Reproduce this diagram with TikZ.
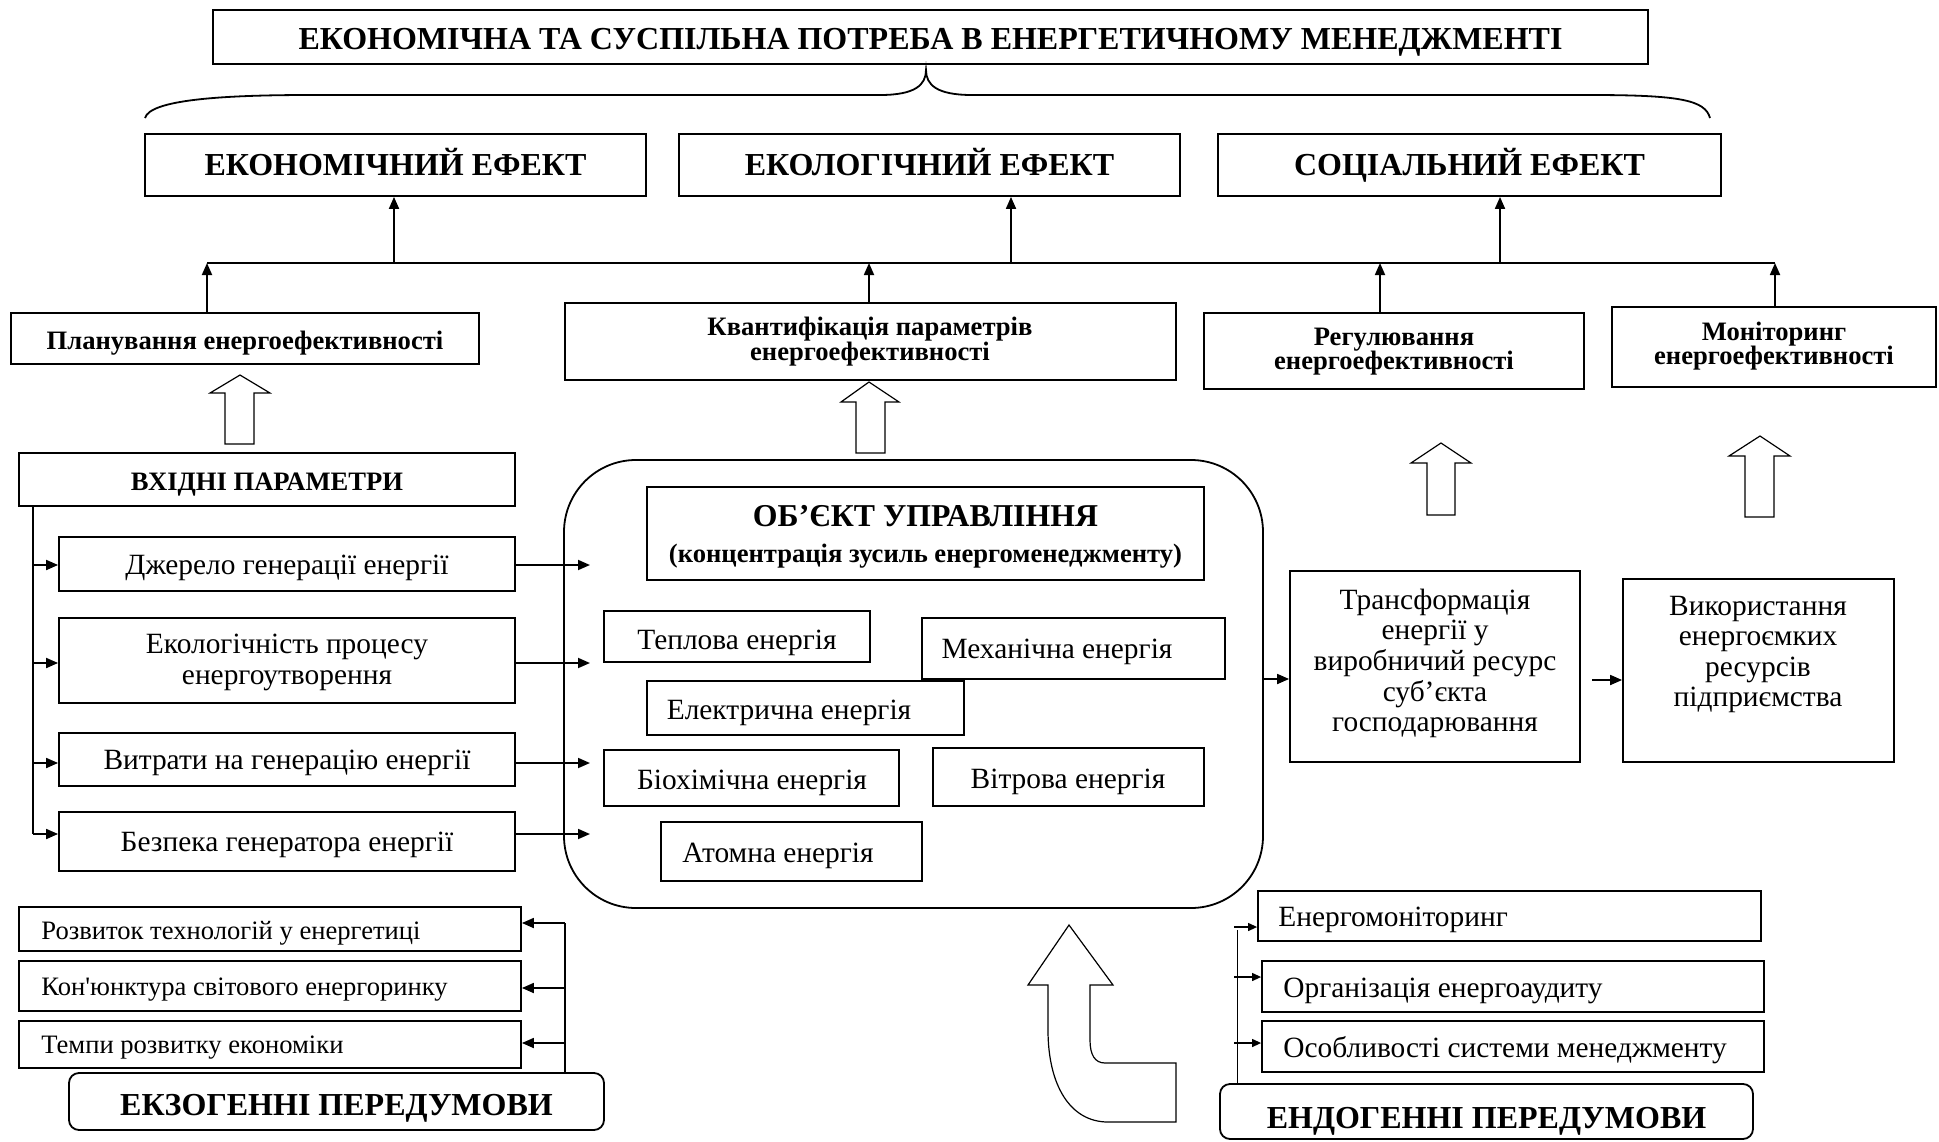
\documentclass[tikz,border=0pt]{standalone}
\usepackage{fontspec}
\setmainfont{Liberation Serif}[Ligatures=TeXOff]
\usetikzlibrary{arrows.meta,fit}
\begin{document}
\begin{tikzpicture}[x=0.5pt,y=-0.5pt,
 box/.style={draw,line width=0.9pt,inner sep=0pt},
 rbox/.style={box,rounded corners=5pt},
 txt/.style={inner sep=0pt,align=center,yshift=-1.75pt},
 arr/.style={line width=0.9pt,-{Triangle[length=6pt,width=5pt]}},
 thinarr/.style={line width=0.6pt,-{Triangle[length=4.5pt,width=4pt]}},
 blk/.style={draw,line width=0.6pt,fill=white,line join=miter},
 fT/.style={txt,font=\bfseries\fontsize{16}{18}\selectfont},
 fE/.style={txt,font=\bfseries\fontsize{16}{18}\selectfont,anchor=base},
 fS/.style={txt,font=\bfseries\fontsize{13.3}{12.3}\selectfont},
 fR/.style={txt,font=\fontsize{14.7}{15.5}\selectfont},
 fN/.style={txt,font=\fontsize{14.7}{15.3}\selectfont},
 fX/.style={txt,font=\fontsize{13.3}{14}\selectfont},
 fD/.style={txt,font=\fontsize{14.7}{15}\selectfont},
 fP/.style={txt,font=\bfseries\fontsize{16}{18}\selectfont},
 ]
\useasboundingbox (0,0) rectangle (1939,1141);

% title and brace
\node[box,fit={(213,10)(1648,64)}] (title) {};
\node[fT] (titleT) at ([yshift=-0.75pt]title.center) {ЕКОНОМІЧНА ТА СУСПІЛЬНА ПОТРЕБА В ЕНЕРГЕТИЧНОМУ МЕНЕДЖМЕНТІ};
\draw[line width=0.9pt] (145,118) .. controls (150,100) and (220,95) .. (310,95) -- (880,95)
  .. controls (915,95) and (926,85) .. (926,70) .. controls (926,85) and (937,95) .. (972,95)
  -- (1590,95) .. controls (1680,95) and (1705,100) .. (1710,118);

% effects
\coordinate (eb) at (0,172);
\node[box,fit={(145,134)(646,196)}] (eco) {};
\node[fE] (ecoT) at (eco.center |- eb) {ЕКОНОМІЧНИЙ ЕФЕКТ};
\node[box,fit={(679,134)(1180,196)}] (ecol) {};
\node[fE] (ecolT) at (ecol.center |- eb) {ЕКОЛОГІЧНИЙ ЕФЕКТ};
\node[box,fit={(1218,134)(1721,196)}] (soc) {};
\node[fE] (socT) at (soc.center |- eb) {СОЦІАЛЬНИЙ ЕФЕКТ};

% bus
\coordinate (busL) at (207,263);
\coordinate (busR) at (1775,263);
\coordinate (b1) at (394,263);
\coordinate (b2) at (1011,263);
\coordinate (b3) at (1500,263);
\coordinate (b4) at (869,263);
\coordinate (b5) at (1380,263);
\draw[line width=0.9pt] (busL) -- (busR);
\draw[arr] (b1) -- (b1 |- eco.south);
\draw[arr] (b2) -- (b2 |- ecol.south);
\draw[arr] (b3) -- (b3 |- soc.south);

% management functions
\node[box,fit={(11,313)(479,364)}] (plan) {};
\node[fS] (planT) at (245,339.5) {Планування енергоефективності};
\node[box,fit={(565,303)(1176,380)}] (quant) {};
\node[fS] (quantT) at (870,338) {Квантифікація параметрів\\енергоефективності};
\node[box,fit={(1204,313)(1584,389)}] (reg) {};
\node[fS] (regT) at (1394,348) {Регулювання\\енергоефективності};
\node[box,fit={(1612,307)(1936,387)}] (mon) {};
\node[fS] (monT) at (1774,342.5) {Моніторинг\\енергоефективності};
\draw[arr] (busL |- plan.north) -- (busL);
\draw[arr] (b4 |- quant.north) -- (b4);
\draw[arr] (b5 |- reg.north) -- (b5);
\draw[arr] (busR |- mon.north) -- (busR);

% hollow arrows
\draw[blk] (240,375) -- (270,393) -- (254,393) -- (254,444) -- (225,444) -- (225,393) -- (210,393) -- cycle;
\draw[blk] (869,382) -- (899,402) -- (885,402) -- (885,453) -- (856,453) -- (856,402) -- (841,402) -- cycle;
\draw[blk] (1441,443) -- (1471,463) -- (1455,463) -- (1455,515) -- (1427,515) -- (1427,463) -- (1411,463) -- cycle;
\draw[blk] (1760,436) -- (1790,456) -- (1774,456) -- (1774,517) -- (1745,517) -- (1745,456) -- (1729,456) -- cycle;

% input parameters
\node[box,fit={(19,453)(515,506)}] (inp) {};
\node[fS] (inpT) at ([yshift=-0.6pt]inp.center) {ВХІДНІ ПАРАМЕТРИ};
\node[box,fit={(59,537)(515,591)}] (src) {};
\node[fR] (srcT) at (src.center) {Джерело генерації енергії};
\node[box,fit={(59,618)(515,703)}] (env) {};
\node[fR] (envT) at ([yshift=0.8pt]env.center) {Екологічність процесу\\енергоутворення};
\node[box,fit={(59,733)(515,786)}] (cost) {};
\node[fR] (costT) at (cost.center) {Витрати на генерацію енергії};
\node[box,fit={(59,812)(515,871)}] (safe) {};
\node[fR] (safeT) at (safe.center) {Безпека генератора енергії};
\coordinate (vt) at (33,506);
\coordinate (v1) at (33,565);
\coordinate (v2) at (33,663);
\coordinate (v3) at (33,763);
\coordinate (v4) at (33,834);
\draw[line width=0.9pt] (vt) -- (v4);
\draw[arr] (v1) -- (v1 -| src.west);
\draw[arr] (v2) -- (v2 -| env.west);
\draw[arr] (v3) -- (v3 -| cost.west);
\draw[arr] (v4) -- (v4 -| safe.west);

% object of management
\node[draw,line width=0.9pt,rounded corners=36pt,inner sep=0pt,fit={(564,460)(1263,908)}] (obj) {};
\coordinate (o1) at (590,565);
\coordinate (o2) at (590,663);
\coordinate (o3) at (590,763);
\coordinate (o4) at (590,834);
\draw[arr] (src.east |- o1) -- (o1);
\draw[arr] (env.east |- o2) -- (o2);
\draw[arr] (cost.east |- o3) -- (o3);
\draw[arr] (safe.east |- o4) -- (o4);

\node[box,fit={(647,487)(1204,580)}] (objt) {};
\node[txt,font=\bfseries\fontsize{15.9}{18}\selectfont] (objtT1) at (925.5,513) {ОБ’ЄКТ УПРАВЛІННЯ};
\node[txt,font=\bfseries\fontsize{13.3}{15}\selectfont] (objtT2) at (925.5,553) {(концентрація зусиль енергоменеджменту)};

\node[box,fit={(604,611)(870,662)}] (heat) {};
\node[fN] (heatT) at (737,639) {Теплова енергія};
\node[box,fit={(922,618)(1225,679)}] (mech) {};
\node[fN] (mechT) at (1057,648) {Механічна енергія};
\node[box,fit={(647,681)(964,735)}] (elec) {};
\node[fN] (elecT) at (789,709) {Електрична енергія};
\node[box,fit={(604,750)(899,806)}] (bio) {};
\node[fN] (bioT) at (752,779) {Біохімічна енергія};
\node[box,fit={(933,748)(1204,806)}] (wind) {};
\node[fN] (windT) at (1068,778) {Вітрова енергія};
\node[box,fit={(661,822)(922,881)}] (atom) {};
\node[fN] (atomT) at (778,852) {Атомна енергія};

% transformation and use
\node[box,fit={(1290,571)(1580,762)}] (trans) {};
\node[fN] (transT) at (1435,660) {Трансформація\\енергії у\\виробничий ресурс\\суб’єкта\\господарювання};
\node[box,fit={(1623,579)(1894,762)}] (use) {};
\node[fN] (useT) at (1758,651) {Використання\\енергоємких\\ресурсів\\підприємства};
\coordinate (t1) at (1263,679);
\coordinate (t2) at (1592,680);
\draw[arr] (obj.east |- t1) -- (trans.west |- t1);
\draw[arr] (t2) -- (use.west |- t2);

% exogenous
\node[box,fit={(19,907)(521,951)}] (ex1) {};
\node[fX,anchor=west] (ex1T) at (41,930) {Розвиток технологій у енергетиці};
\node[box,fit={(19,961)(521,1011)}] (ex2) {};
\node[fX,anchor=west] (ex2T) at (41,986) {Кон'юнктура світового енергоринку};
\node[box,fit={(19,1021)(521,1068)}] (ex3) {};
\node[fX,anchor=west] (ex3T) at (41,1044) {Темпи розвитку економіки};
\node[rbox,fit={(69,1073)(604,1130)}] (exo) {};
\node[fP] (exoT) at ([yshift=-1.75pt]exo.center) {ЕКЗОГЕННІ ПЕРЕДУМОВИ};
\coordinate (x1) at (565,923);
\coordinate (x2) at (565,988);
\coordinate (x3) at (565,1043);
\draw[line width=0.9pt] (x1) -- (x1 |- exo.north);
\draw[arr] (x1) -- (x1 -| ex1.east);
\draw[arr] (x2) -- (x2 -| ex2.east);
\draw[arr] (x3) -- (x3 -| ex3.east);

% endogenous
\node[box,fit={(1258,891)(1761,941)}] (en1) {};
\node[fD,anchor=west] (en1T) at (1278,916) {Енергомоніторинг};
\node[box,fit={(1262,961)(1764,1012)}] (en2) {};
\node[fD,anchor=west] (en2T) at (1283,987) {Організація енергоаудиту};
\node[box,fit={(1262,1021)(1764,1072)}] (en3) {};
\node[fD,anchor=west] (en3T) at (1283,1047) {Особливості системи менеджменту};
\node[rbox,fit={(1220,1084)(1753,1139)}] (endo) {};
\node[fP] (endoT) at ([yshift=-3.25pt]endo.center) {ЕНДОГЕННІ ПЕРЕДУМОВИ};
\coordinate (y0) at (1237,930);
\coordinate (y1) at (1234,927);
\coordinate (y2) at (1234,977);
\coordinate (y3) at (1234,1043);
\draw[line width=0.5pt] (y0) -- (y0 |- endo.north);
\draw[thinarr] (y1) -- (y1 -| en1.west);
\draw[thinarr] (y2) -- (y2 -| en2.west);
\draw[thinarr] (y3) -- (y3 -| en3.west);

% big curved hollow arrow
\draw[blk] (1069,925) -- (1113,985) -- (1090,985) -- (1090,1040)
  .. controls (1090,1055) and (1095,1063) .. (1105,1063) -- (1176,1063) -- (1176,1122) -- (1108,1122)
  .. controls (1070,1122) and (1048,1085) .. (1048,1030) -- (1048,985) -- (1028,985) -- cycle;
\end{tikzpicture}
\end{document}
